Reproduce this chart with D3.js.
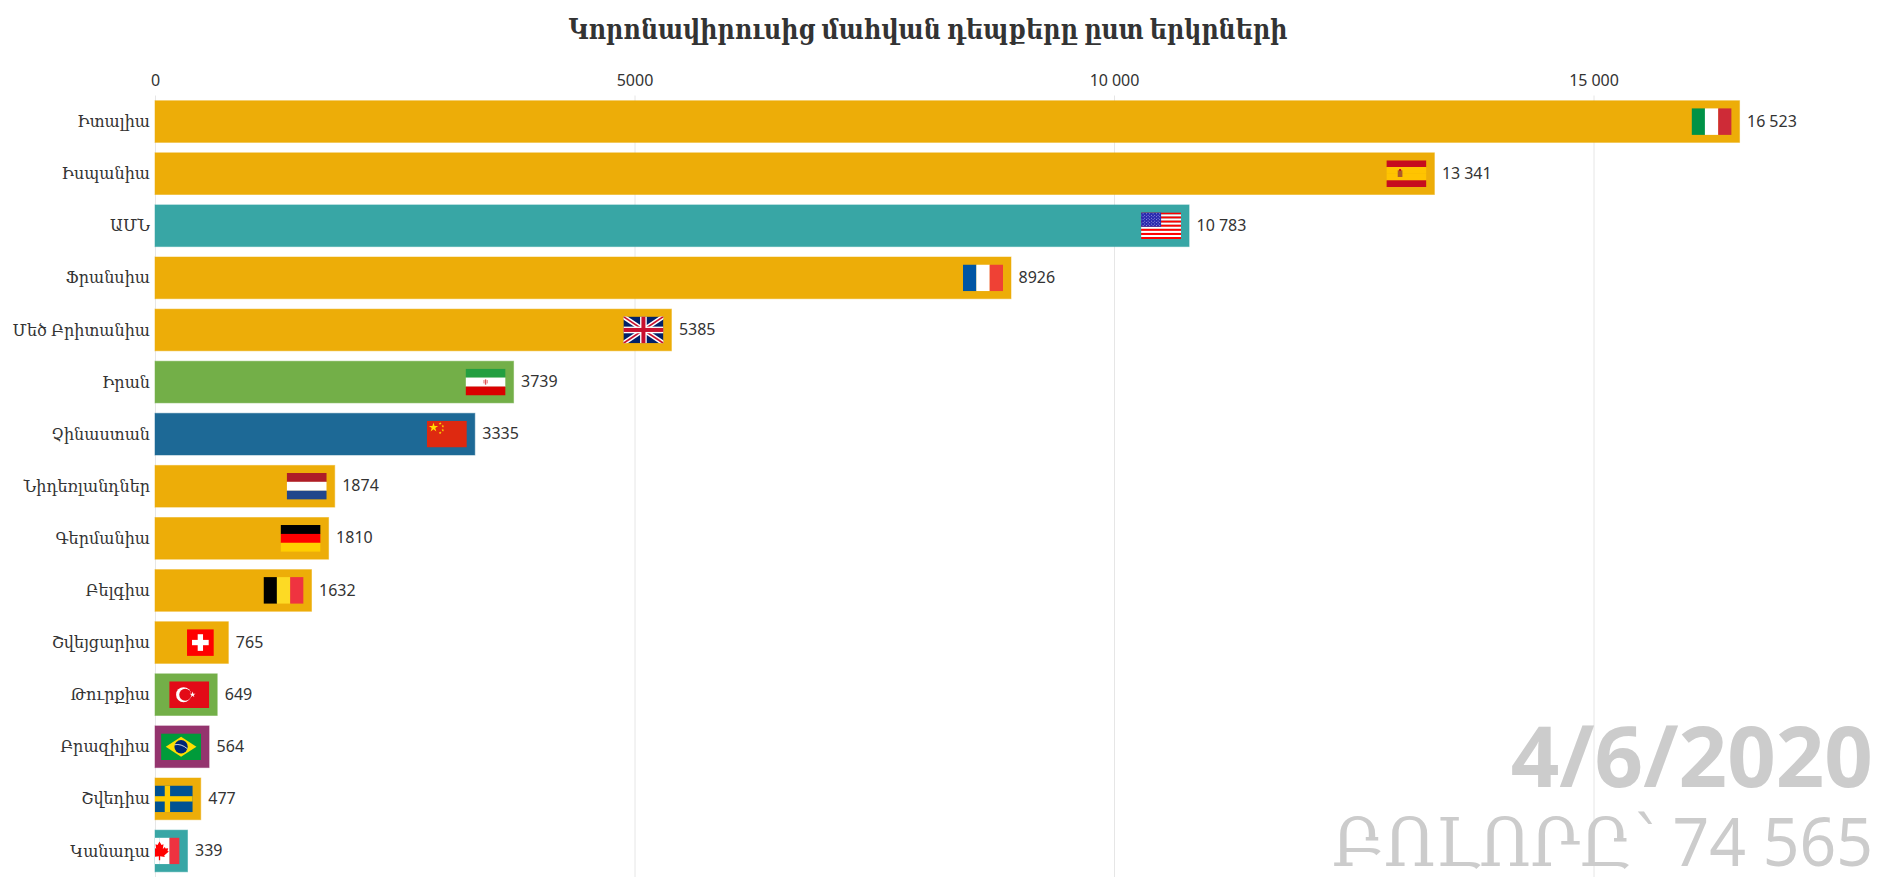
<!DOCTYPE html>
<html>
<head>
<meta charset="utf-8">
<script src="https://cdn.jsdelivr.net/npm/d3@7"></script>
<style>
body { margin: 0; background: #fff; }
text { font-family: "Noto Sans", "DejaVu Serif", serif; fill: #333; }
</style>
</head>
<body>
<div id="chart"></div>
<script>
// chart data
var countries = ["Իտալիա", "Իսպանիա", "ԱՄՆ", "Ֆրանսիա", "Մեծ Բրիտանիա", "Իրան", "Չինաստան", "Նիդեռլանդներ", "Գերմանիա", "Բելգիա", "Շվեյցարիա", "Թուրքիա", "Բրազիլիա", "Շվեդիա", "Կանադա"];
var deaths = [16523, 13341, 10783, 8926, 5385, 3739, 3335, 1874, 1810, 1632, 765, 649, 564, 477, 339];
var regions = ["Europe", "Europe", "North America", "Europe", "Europe", "Middle East", "Asia", "Europe", "Europe", "Europe", "Europe", "Middle East", "South America", "Europe", "North America"];
var flags = ["it", "es", "us", "fr", "gb", "ir", "cn", "nl", "de", "be", "ch", "tr", "br", "se", "ca"];
var regionNames = ["Europe", "North America", "Middle East", "Asia", "South America"];
var regionColors = ["#EDAD08", "#38A6A5", "#73AF48", "#1D6996", "#94346E"];
var xTicks = [0, 5000, 10000, 15000];
var titleText = "Կորոնավիրուսից մահվան դեպքերը ըստ երկրների";
var dateText = "4/6/2020";
var totalText = "ԲՈԼՈՐԸ՝ 74 565";

// svg params
var svgWidth = 1899;
var svgHeight = 889;
var margin = { top: 95.5, right: 104, bottom: 12, left: 155 };
var chartWidth = svgWidth - margin.left - margin.right;
var chartHeight = svgHeight - margin.top - margin.bottom;

var svg = d3.select("#chart").append("svg")
  .attr("width", svgWidth)
  .attr("height", svgHeight)
  .style("display", "block");

var chartGroup = svg.append("g")
  .attr("transform", `translate(${margin.left}, ${margin.top})`);

svg.append("defs").append("clipPath").attr("id", "plotClip")
  .append("rect").attr("width", chartWidth + margin.right).attr("height", chartHeight);
svg.select("defs").append("clipPath").attr("id", "bottomClip")
  .append("rect").attr("width", svgWidth).attr("height", 872);

// 5000 stays plain, from 10 000 up a narrow space is used
function formatNumber(d) {
  return d >= 10000 ? d3.format(",")(d).replace(",", "\u2005") : String(d);
}

var xScale = d3.scaleLinear().domain([0, 15000]).range([0, 1438.5]);
var yScale = d3.scaleBand().domain(countries).range([0, chartHeight]).paddingInner(0.2).paddingOuter(0.1);
var colorScale = d3.scaleOrdinal().domain(regionNames).range(regionColors);

// grid + top axis
var topAxis = d3.axisTop(xScale).tickValues(xTicks).tickFormat(formatNumber).tickSize(-chartHeight).tickPadding(9.5);
var xAxisGroup = chartGroup.append("g").call(topAxis);
xAxisGroup.select(".domain").remove();
xAxisGroup.selectAll("line").attr("stroke", "#e6e6e6").attr("stroke-width", 1);
xAxisGroup.selectAll("text").attr("font-size", "16px").style("fill", "#333");

// watermark text sits behind the bars
var wm = svg.append("g").attr("clip-path", "url(#bottomClip)");
wm.append("text").attr("x", 1873).attr("y", 787).attr("text-anchor", "end")
  .attr("font-size", "85px").attr("font-weight", "700").style("fill", "#ccc").text(dateText);
wm.append("g").attr("transform", "translate(1873, 866) scale(0.945, 1)")
  .append("text").attr("text-anchor", "end")
  .attr("font-size", "68px").style("fill", "#ccc").text(totalText);

// bars
chartGroup.selectAll(".bar")
  .data(countries)
  .enter()
  .append("rect")
  .attr("class", "bar")
  .attr("x", 0)
  .attr("y", d => yScale(d))
  .attr("width", (d, i) => xScale(deaths[i]))
  .attr("height", yScale.bandwidth())
  .attr("fill", (d, i) => colorScale(regions[i]))
  .attr("stroke", (d, i) => colorScale(regions[i]))
  .attr("stroke-opacity", 0.5);

// category labels, narrowed a bit to get the width of the original font
chartGroup.selectAll(".label")
  .data(countries)
  .enter()
  .append("text")
  .attr("class", "label")
  .attr("transform", d => `translate(-5, ${yScale(d) + yScale.bandwidth() / 2 - 0.5}) scale(0.915, 1)`)
  .attr("dy", "0.35em")
  .attr("text-anchor", "end")
  .attr("font-size", "17.5px")
  .text(d => d);

// value labels
chartGroup.selectAll(".value")
  .data(countries)
  .enter()
  .append("text")
  .attr("class", "value")
  .attr("x", (d, i) => xScale(deaths[i]) + 7.5)
  .attr("y", d => yScale(d) + yScale.bandwidth() / 2 - 0.5)
  .attr("dy", "0.35em")
  .attr("font-size", "16px")
  .text((d, i) => formatNumber(deaths[i]));

// flag helpers, everything below is drawn in a 60x40 box
function rect(g, x, y, w, h, c) {
  g.append("rect").attr("x", x).attr("y", y).attr("width", w).attr("height", h).attr("fill", c);
}
function hStripes(g, colors) {
  colors.forEach((c, i) => rect(g, 0, i * 40 / colors.length, 60, 40 / colors.length + 0.2, c));
}
function vStripes(g, colors) {
  colors.forEach((c, i) => rect(g, i * 60 / colors.length, 0, 60 / colors.length + 0.2, 40, c));
}
function star(g, x, y, size, c) {
  g.append("path").attr("d", d3.symbol(d3.symbolStar, size)()).attr("transform", `translate(${x},${y})`).attr("fill", c);
}

var flagDraw = {
  it: g => vStripes(g, ["#009246", "#ffffff", "#ce2b37"]),
  fr: g => vStripes(g, ["#0055a4", "#ffffff", "#ef4135"]),
  be: g => vStripes(g, ["#000000", "#fdda24", "#ef3340"]),
  nl: g => hStripes(g, ["#ae1c28", "#ffffff", "#21468b"]),
  de: g => hStripes(g, ["#000000", "#ff0000", "#ffce00"]),
  es: g => {
    hStripes(g, ["#c60b1e", "#ffc400", "#ffc400", "#c60b1e"]);
    rect(g, 17, 15, 7, 10, "#ad5b2a");
    rect(g, 19, 13, 3, 3, "#c60b1e");
  },
  us: g => {
    d3.range(13).forEach(i => rect(g, 0, i * 40 / 13, 60, 40 / 13 + 0.1, i % 2 ? "#ffffff" : "#ff0000"));
    rect(g, 0, 0, 30, 21.5, "#2a2ab0");
    d3.range(9).forEach(r => d3.range(r % 2 ? 5 : 6).forEach(c => {
      rect(g, (r % 2 ? 5 : 2.5) + c * 5, 1.6 + r * 2.2, 1, 1, "#ffffff");
    }));
  },
  gb: g => {
    rect(g, 0, 0, 60, 40, "#012169");
    var diag = [[0, 0, 60, 40], [60, 0, 0, 40]];
    diag.forEach(d => g.append("line").attr("x1", d[0]).attr("y1", d[1]).attr("x2", d[2]).attr("y2", d[3]).attr("stroke", "#fff").attr("stroke-width", 7));
    diag.forEach(d => g.append("line").attr("x1", d[0]).attr("y1", d[1]).attr("x2", d[2]).attr("y2", d[3]).attr("stroke", "#c8102e").attr("stroke-width", 2.5));
    rect(g, 25, 0, 10, 40, "#ffffff");
    rect(g, 0, 15, 60, 10, "#ffffff");
    rect(g, 27, 0, 6, 40, "#c8102e");
    rect(g, 0, 17, 60, 6, "#c8102e");
  },
  ir: g => {
    hStripes(g, ["#239f40", "#ffffff", "#da0000"]);
    rect(g, 0, 12.7, 60, 0.7, "#8ecf9f");
    rect(g, 0, 26.6, 60, 0.7, "#ee9999");
    rect(g, 29, 16, 2, 8, "#e05050");
    rect(g, 27, 17, 1.2, 5, "#e05050");
    rect(g, 31.8, 17, 1.2, 5, "#e05050");
  },
  cn: g => {
    rect(g, 0, 0, 60, 40, "#de2910");
    star(g, 10, 10, 60, "#ffde00");
    [[20, 4], [24, 8], [24, 14], [20, 18]].forEach(p => star(g, p[0], p[1], 6, "#ffde00"));
  },
  ch: g => {
    rect(g, 10, 0, 40, 40, "#ff0000");
    rect(g, 26, 7.5, 8, 25, "#ffffff");
    rect(g, 17.5, 16, 25, 8, "#ffffff");
  },
  tr: g => {
    rect(g, 0, 0, 60, 40, "#e30a17");
    g.append("circle").attr("cx", 21.5).attr("cy", 20).attr("r", 11.25).attr("fill", "#fff");
    g.append("circle").attr("cx", 24).attr("cy", 20).attr("r", 9).attr("fill", "#e30a17");
    star(g, 35, 20, 24, "#fff");
  },
  br: g => {
    rect(g, 0, 0, 60, 40, "#009b3a");
    g.append("polygon").attr("points", "7,20 30,5 53,20 30,35").attr("fill", "#fedf00");
    g.append("circle").attr("cx", 30).attr("cy", 20).attr("r", 10).attr("fill", "#002776");
    g.append("path").attr("d", "M20.5,17 Q30,15 39.5,23").attr("fill", "none").attr("stroke", "#fff").attr("stroke-width", 1.2);
  },
  se: g => {
    rect(g, 0, 0, 60, 40, "#005293");
    rect(g, 18, 0, 8, 40, "#fecb00");
    rect(g, 0, 16, 60, 8, "#fecb00");
  },
  ca: g => {
    vStripes(g, ["#ef3340", "#ffffff", "#ffffff", "#ef3340"]);
    g.append("path").attr("fill", "#ff0000")
      .attr("d", "M30,6 L33,11 L36,10 L35,17 L38,14 L39,16.5 L43,16 L42,20 L44,21 L37,27 L38,29 L31,28 L31,34 L29,34 L29,28 L22,29 L23,27 L16,21 L18,20 L17,16 L21,16.5 L22,14 L25,17 L24,10 L27,11 Z");
  }
};

// flags sit inside the right end of every bar, clipped to the plot
var flagGroup = chartGroup.append("g").attr("clip-path", "url(#plotClip)");
flags.forEach(function(code, i) {
  var box = flagGroup.append("svg")
    .attr("x", xScale(deaths[i]) - 48)
    .attr("y", yScale(countries[i]) + (yScale.bandwidth() - 26.7) / 2)
    .attr("width", 40)
    .attr("height", 26.7)
    .attr("viewBox", "0 0 60 40");
  flagDraw[code](box);
});

// title, narrowed the same way
svg.append("g")
  .attr("transform", "translate(928, 39) scale(0.85, 1)")
  .append("text")
  .attr("text-anchor", "middle")
  .attr("font-size", "28px")
  .attr("font-weight", "700")
  .text(titleText);
</script>
</body>
</html>
